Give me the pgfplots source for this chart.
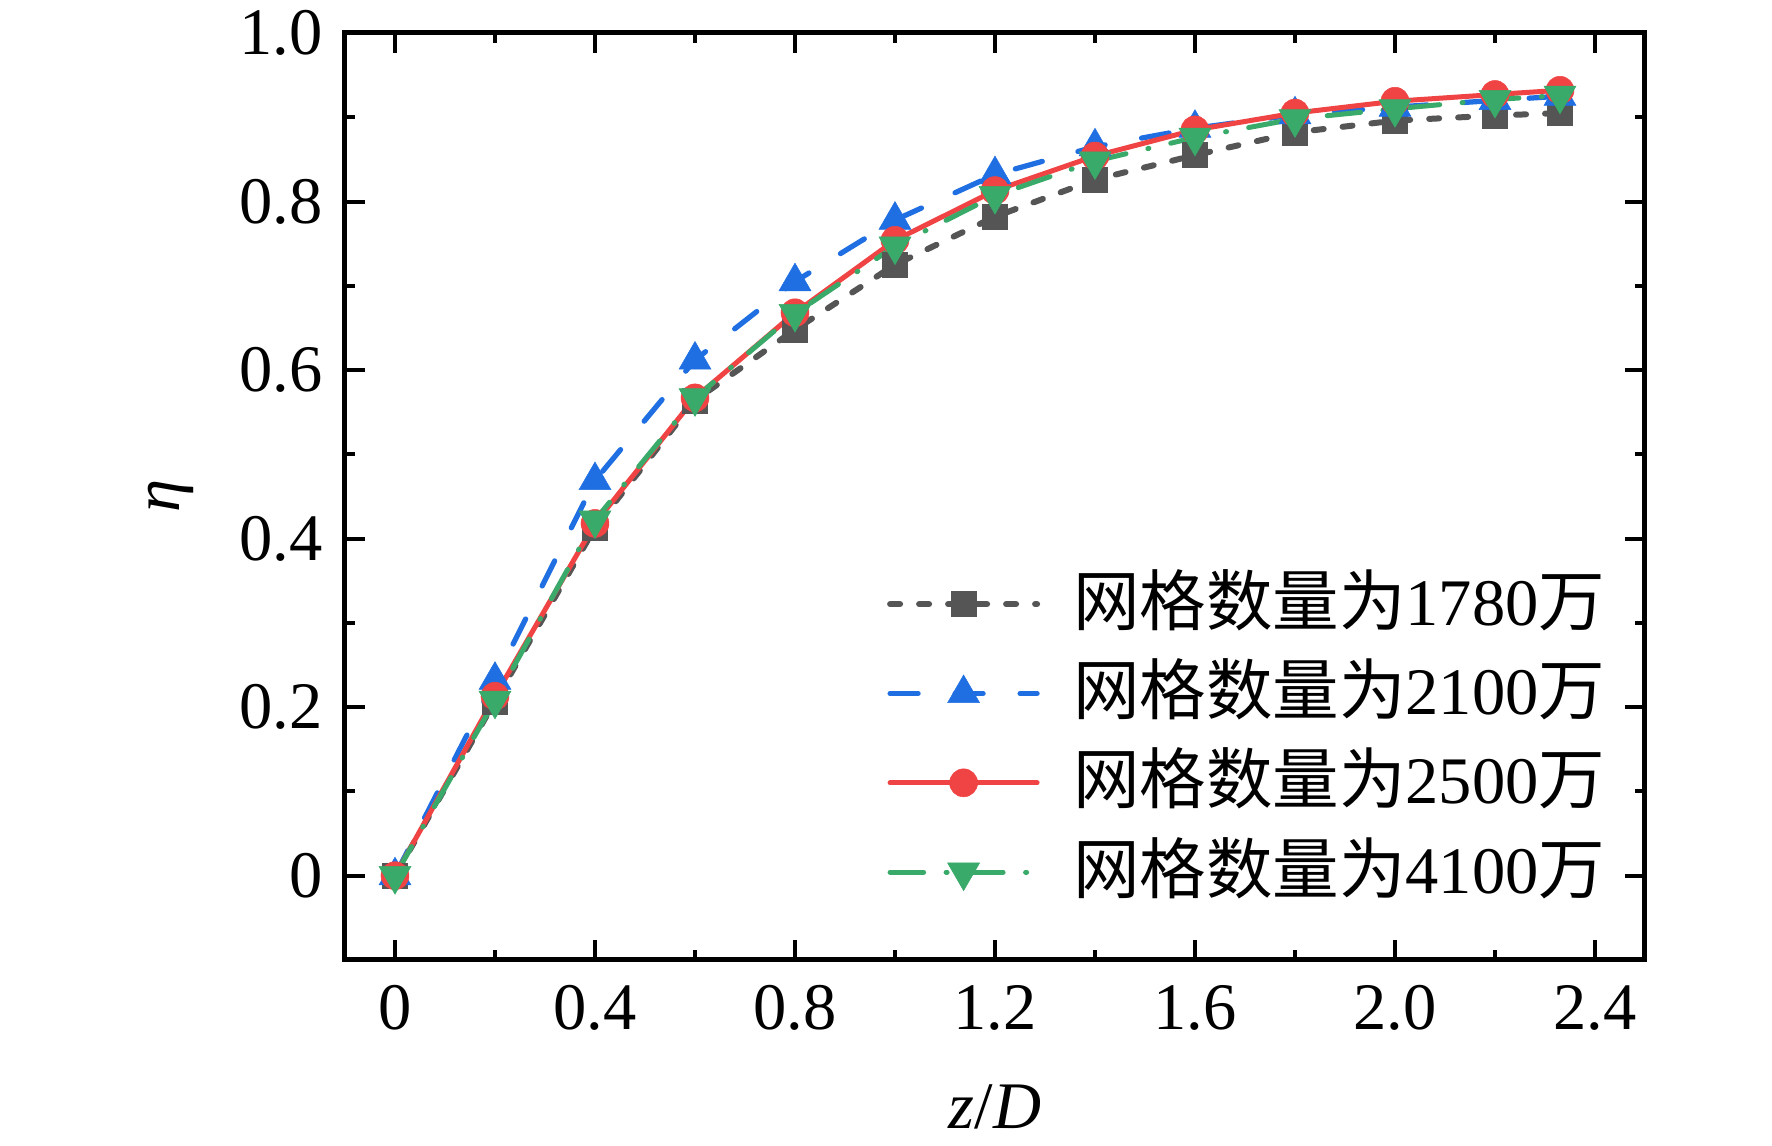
\documentclass[border=0pt]{standalone}
\usepackage{pgfplots}
\pgfplotsset{compat=1.18}
\usepackage{fontspec}
\setmainfont{Liberation Serif}
\newfontfamily\cjk{Noto Sans CJK SC}
\newfontfamily\tnr{Liberation Serif}
\newcommand{\cj}[1]{{\cjk #1}}
\newcommand{\nm}[1]{{\tnr #1}}
\definecolor{cgray}{RGB}{85,85,85}
\definecolor{cblue}{RGB}{31,111,226}
\definecolor{cred}{RGB}{240,67,67}
\definecolor{cgreen}{RGB}{58,170,106}
\newcommand{\fs}{\fontsize{13.3}{16}\selectfont}
\begin{document}
\begin{tikzpicture}
\path[use as bounding box] (-69pt,-37.2pt) rectangle (285.4pt,192pt);
\begin{axis}[
  at={(0,0)}, anchor=south west,
  scale only axis, width=260pt, height=185.4pt,
  xmin=-0.1, xmax=2.5, ymin=-0.1, ymax=1.0,
  xtick={0,0.4,0.8,1.2,1.6,2.0,2.4},
  xticklabels={0,0.4,0.8,1.2,1.6,2.0,2.4},
  ytick={0,0.2,0.4,0.6,0.8,1.0},
  yticklabels={0,0.2,0.4,0.6,0.8,1.0},
  minor x tick num=1, minor y tick num=1,
  tick align=inside,
  major tick length=4pt, minor tick length=2pt,
  every tick/.style={black, line width=0.8pt},
  axis line style={line width=1pt},
  tick label style={font=\fs\tnr},
  xticklabel style={yshift=-1.6pt},
  yticklabel style={xshift=-1pt},
  label style={font=\fs\tnr},
  xlabel={\textit{z}/\textit{D}},
  ylabel={\textit{η}},
  xlabel style={at={(axis description cs:0.5,-0.1330)}, anchor=north, inner sep=0pt},
  ylabel style={at={(axis description cs:-0.1340,0.5)}, anchor=center, inner sep=0pt},
  legend style={draw=none, fill=none, at={(axis description cs:0.417,0.420)}, anchor=north west,
    inner sep=0pt, outer sep=0pt, row sep=4.47pt, column sep=6.6pt, font=\fs\tnr,
    nodes={inner sep=0pt, text height=10.9pt, text depth=2.5pt}},
  legend cell align=left,
  legend image code/.code={\draw[mark repeat=2, mark phase=2, #1] plot coordinates {(0pt,0pt) (14.7pt,0pt) (29.4pt,0pt)};},
]
\addplot[cgray, line width=1.2pt, line cap=round, dash pattern=on 2pt off 3.8pt,
  mark=square*, mark size=2.5pt, mark options={solid, fill=cgray, line width=0.1pt}]
  coordinates {(0,0) (0.2,0.207) (0.4,0.413) (0.6,0.564) (0.8,0.648) (1.0,0.725) (1.2,0.782) (1.4,0.826) (1.6,0.855) (1.8,0.882) (2.0,0.896) (2.2,0.902) (2.33,0.905)};
\addlegendentry{\cj{网格数量为}\nm{1780}\cj{万}}
\addplot[cblue, line width=1.05pt, line cap=round, dash pattern=on 5.6pt off 7.4pt,
  mark=triangle*, mark size=3.7pt, mark options={solid, fill=cblue, line width=0.1pt}]
  coordinates {(0,0) (0.2,0.232) (0.4,0.469) (0.6,0.612) (0.8,0.705) (1.0,0.778) (1.2,0.832) (1.4,0.865) (1.6,0.887) (1.8,0.903) (2.0,0.912) (2.2,0.920) (2.33,0.925)};
\addlegendentry{\cj{网格数量为}\nm{2100}\cj{万}}
\addplot[cred, line width=1pt, line cap=round,
  mark=*, mark size=2.8pt, mark options={solid, fill=cred, line width=0.1pt}]
  coordinates {(0,0) (0.2,0.213) (0.4,0.418) (0.6,0.567) (0.8,0.668) (1.0,0.754) (1.2,0.813) (1.4,0.854) (1.6,0.885) (1.8,0.905) (2.0,0.919) (2.2,0.927) (2.33,0.932)};
\addlegendentry{\cj{网格数量为}\nm{2500}\cj{万}}
\addplot[cgreen, line width=1pt, line cap=round, dash pattern=on 6.7pt off 4.5pt on 0.2pt off 4.5pt,
  mark=triangle*, mark size=3.7pt, mark options={solid, fill=cgreen, line width=0.1pt, rotate=180}]
  coordinates {(0,0) (0.2,0.208) (0.4,0.422) (0.6,0.567) (0.8,0.667) (1.0,0.747) (1.2,0.807) (1.4,0.848) (1.6,0.876) (1.8,0.898) (2.0,0.910) (2.2,0.921) (2.33,0.926)};
\addlegendentry{\cj{网格数量为}\nm{4100}\cj{万}}
\end{axis}
\end{tikzpicture}
\end{document}
